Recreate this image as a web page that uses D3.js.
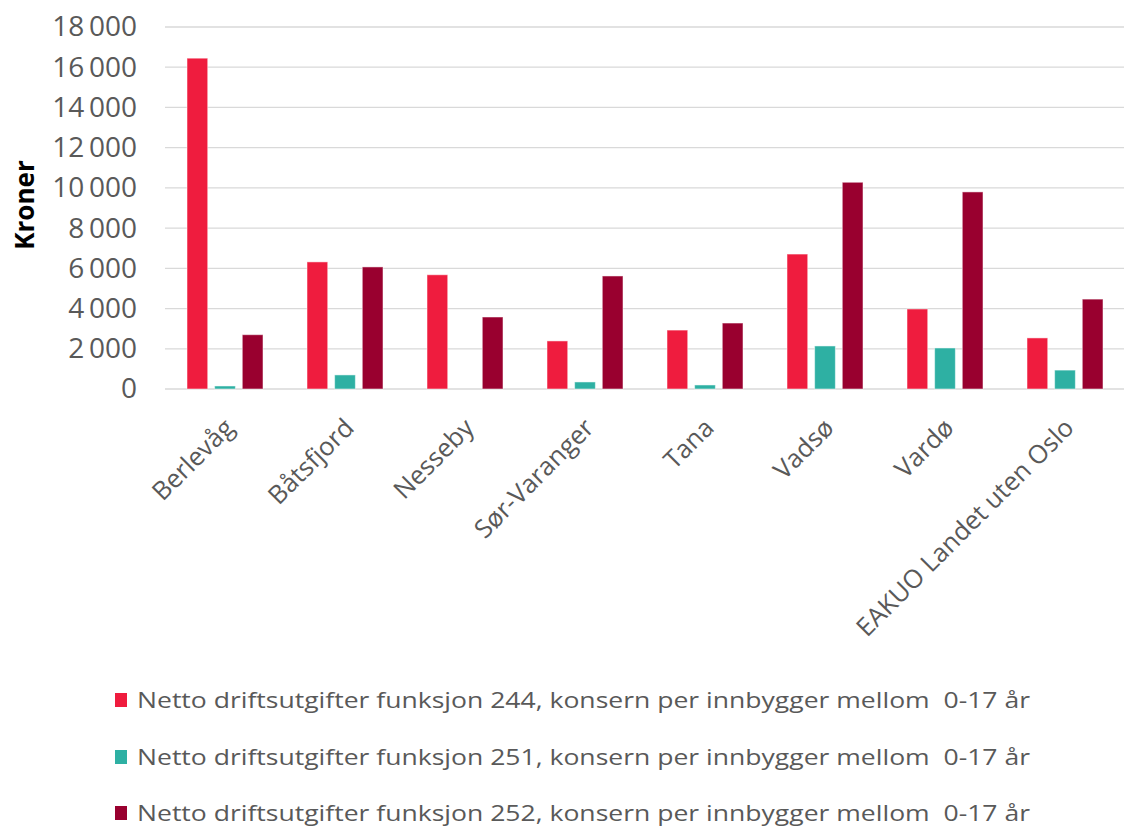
<!DOCTYPE html>
<html>
<head>
<meta charset="utf-8">
<script src="https://cdn.jsdelivr.net/npm/d3@7"></script>
<style>
  body { margin: 0; background: #fff; }
  svg { display: block; font-family: "Open Sans", sans-serif; }
</style>
</head>
<body>
<div id="chart"></div>
<script>
// data
const categories = ["Berlevåg", "Båtsfjord", "Nesseby", "Sør-Varanger", "Tana", "Vadsø", "Vardø", "EAKUO Landet uten Oslo"];
const seriesNames = [
  "Netto driftsutgifter funksjon 244, konsern per innbygger mellom  0-17 år",
  "Netto driftsutgifter funksjon 251, konsern per innbygger mellom  0-17 år",
  "Netto driftsutgifter funksjon 252, konsern per innbygger mellom  0-17 år"
];
const values244 = [16450, 6320, 5680, 2390, 2930, 6710, 3980, 2540];
const values251 = [150, 700, 0, 350, 200, 2140, 2040, 940];
const values252 = [2700, 6070, 3580, 5620, 3280, 10280, 9800, 4470];
const yTicks = [0, 2000, 4000, 6000, 8000, 10000, 12000, 14000, 16000, 18000];
const colors = ["#ef1c3e", "#2eb0a3", "#99002f"];

const width = 1124, height = 827;
const margin = { top: 27, right: -1, bottom: 438, left: 165 };
const innerW = width - margin.left - margin.right;
const innerH = height - margin.top - margin.bottom;

const svg = d3.select("#chart").append("svg").attr("width", width).attr("height", height);
const g = svg.append("g").attr("transform", `translate(${margin.left},${margin.top})`);

const series = [values244, values251, values252];
const data = categories.map((c, i) => ({ key: c, vals: series.map((s) => s[i]) }));

const x0 = d3.scaleBand().domain(categories).range([0, innerW]).padding(0);
const x1 = d3.scaleBand().domain(d3.range(3)).range([22, x0.bandwidth() - 22]).paddingInner(0.25);
const y = d3.scaleLinear().domain([0, 18000]).range([innerH, 0]);

// grid lines
g.selectAll(".grid")
  .data(yTicks)
  .enter()
  .append("line")
  .attr("x1", 0)
  .attr("x2", innerW)
  .attr("y1", (d) => y(d))
  .attr("y2", (d) => y(d))
  .attr("stroke", "#d9d9d9")
  .attr("stroke-width", 1.3);

// y axis labels
const fmt = (d) => d3.format(",")(d).replace(/,/g, "\u2009");
const yAxis = d3.axisLeft(y).tickValues(yTicks).tickSize(0).tickPadding(28).tickFormat(fmt);
const yg = g.append("g").call(yAxis);
yg.select(".domain").remove();
yg.selectAll("text").attr("fill", "#595959").style("font-size", "28px").style("font-family", "Open Sans");

// y title
svg.append("text")
  .attr("transform", `translate(34,205) rotate(-90)`)
  .attr("text-anchor", "middle")
  .attr("font-weight", "bold")
  .attr("font-size", "26px")
  .attr("fill", "#000")
  .text("Kroner");

// bars
const groups = g.selectAll(".grp")
  .data(data)
  .enter()
  .append("g")
  .attr("transform", (d) => `translate(${x0(d.key)},0)`);
groups.selectAll("rect")
  .data((d) => d.vals.map((v, i) => ({ v, i })).filter((e) => e.v > 0))
  .enter()
  .append("rect")
  .attr("x", (d) => x1(d.i))
  .attr("y", (d) => y(d.v))
  .attr("width", x1.bandwidth())
  .attr("height", (d) => y(0) - y(d.v))
  .attr("fill", (d) => colors[d.i])
  .attr("stroke", "#ffffff")
  .attr("stroke-opacity", 0.5)
  .attr("stroke-width", 1);

// x labels, rotated
g.selectAll(".xlab")
  .data(categories)
  .enter()
  .append("text")
  .attr("transform", (d) => `translate(${x0(d) + x0.bandwidth() / 2 - 4},${innerH + 26}) rotate(-45)`)
  .attr("text-anchor", "end")
  .attr("dy", "0.8em")
  .attr("font-size", "25.5px")
  .attr("fill", "#595959")
  .text((d) => d);

// legend
const legend = svg.append("g").attr("transform", "translate(115,0)");
const rowsY = [700, 757, 813];
seriesNames.forEach((name, i) => {
  legend.append("rect")
    .attr("x", 0)
    .attr("y", rowsY[i] - 7)
    .attr("width", 12)
    .attr("height", 14)
    .attr("fill", colors[i]);
  legend.append("text")
    .attr("x", 22)
    .attr("y", rowsY[i])
    .attr("dy", "0.35em")
    .attr("font-size", "22px")
    .attr("fill", "#595959")
    .attr("textLength", 893)
    .attr("lengthAdjust", "spacingAndGlyphs")
    .style("white-space", "pre")
    .text(name);
});
</script>
</body>
</html>
